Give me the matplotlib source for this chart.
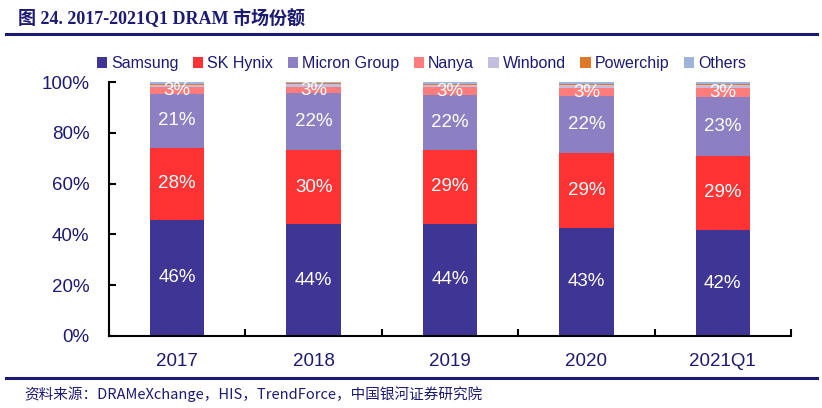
import matplotlib
matplotlib.use("Agg")
import matplotlib.pyplot as plt
import numpy as np

# =========================
# DATA (market share, %)
# =========================
periods = ["2017", "2018", "2019", "2020", "2021Q1"]
samsung   = [45.7, 43.9, 44.1, 42.6, 41.7]
sk_hynix  = [28.4, 29.5, 29.3, 29.4, 29.2]
micron    = [21.3, 22.1, 21.5, 22.3, 23.2]
nanya     = [2.6, 2.7, 3.0, 3.3, 3.4]
winbond   = [1.0, 0.9, 1.0, 1.2, 1.4]
powerchip = [0.3, 0.4, 0.4, 0.4, 0.4]
others    = [0.7, 0.5, 0.7, 0.8, 0.7]

series_names = ["Samsung", "SK Hynix", "Micron Group", "Nanya", "Winbond", "Powerchip", "Others"]
series_vals = [samsung, sk_hynix, micron, nanya, winbond, powerchip, others]
colors = ["#3F3594", "#FF3333", "#8C80C2", "#FF7C7C", "#C3BDE0", "#E0782A", "#9FB4D8"]
labelled = {"Samsung", "SK Hynix", "Micron Group", "Nanya"}

NAVY = "#1C1A72"

# =========================
# FIGURE
# =========================
fig = plt.figure(figsize=(8.22, 4.08), dpi=100)
ax = fig.add_axes([0.1326, 0.1765, 0.8297, 0.6225])

x = np.arange(len(periods))
bottom = np.zeros(len(periods))
for name, vals, col in zip(series_names, series_vals, colors):
    vals = np.array(vals)
    ax.bar(x, vals, width=0.4, bottom=bottom, color=col, label=name, zorder=2)
    if name in labelled:
        for xi, b, v in zip(x, bottom, vals):
            ax.text(xi, b + v / 2, f"{v:.0f}%", ha="center", va="center",
                    color="white", fontsize=13.5, family="Liberation Sans", zorder=3)
    bottom += vals

ax.set_xlim(-0.5, len(periods) - 0.5)
ax.set_ylim(0, 100)
ax.set_yticks(np.arange(0, 101, 20))
ax.set_yticklabels([f"{v}%" for v in range(0, 101, 20)])
ax.set_xticks(x)
ax.set_xticklabels(periods)
ax.set_xticks(np.arange(-0.5, len(periods)), minor=True)

for s in ["top", "right"]:
    ax.spines[s].set_visible(False)
for s in ["left", "bottom"]:
    ax.spines[s].set_linewidth(1.5)
    ax.spines[s].set_color("black")

ax.tick_params(axis="y", direction="in", length=5, width=1.5, pad=14,
               labelsize=13.5, labelcolor=NAVY)
ax.tick_params(axis="x", which="major", length=0, pad=12, labelsize=13.5, labelcolor=NAVY)
ax.tick_params(axis="x", which="minor", direction="in", length=5, width=1.5)
for lab in ax.get_xticklabels() + ax.get_yticklabels():
    lab.set_family("Liberation Sans")

leg = ax.legend(loc="lower center", bbox_to_anchor=(0.458, 1.0), ncol=7, frameon=False,
                handlelength=0.65, handleheight=0.65, handletextpad=0.25, columnspacing=0.9,
                prop={"family": "Liberation Sans", "size": 11.5}, borderaxespad=0.3)
for t in leg.get_texts():
    t.set_color(NAVY)

# title and source lines
fig.text(0.022, 0.955, "图 24. 2017-2021Q1 DRAM 市场份额", ha="left", va="center",
         fontsize=13, fontweight="bold", color=NAVY,
         family=["Liberation Serif", "Noto Sans CJK SC"])
fig.add_artist(plt.Line2D([0.007, 0.994], [0.917, 0.917], color=NAVY, lw=2.2))
fig.add_artist(plt.Line2D([0.007, 0.994], [0.074, 0.074], color=NAVY, lw=2.2))
fig.text(0.03, 0.033, "资料来源：DRAMeXchange，HIS，TrendForce，中国银河证券研究院",
         ha="left", va="center", fontsize=10.5, style="italic", color=NAVY,
         family=["Noto Sans CJK SC", "DejaVu Sans"])

plt.savefig("out.png", dpi=100)
plt.close()
